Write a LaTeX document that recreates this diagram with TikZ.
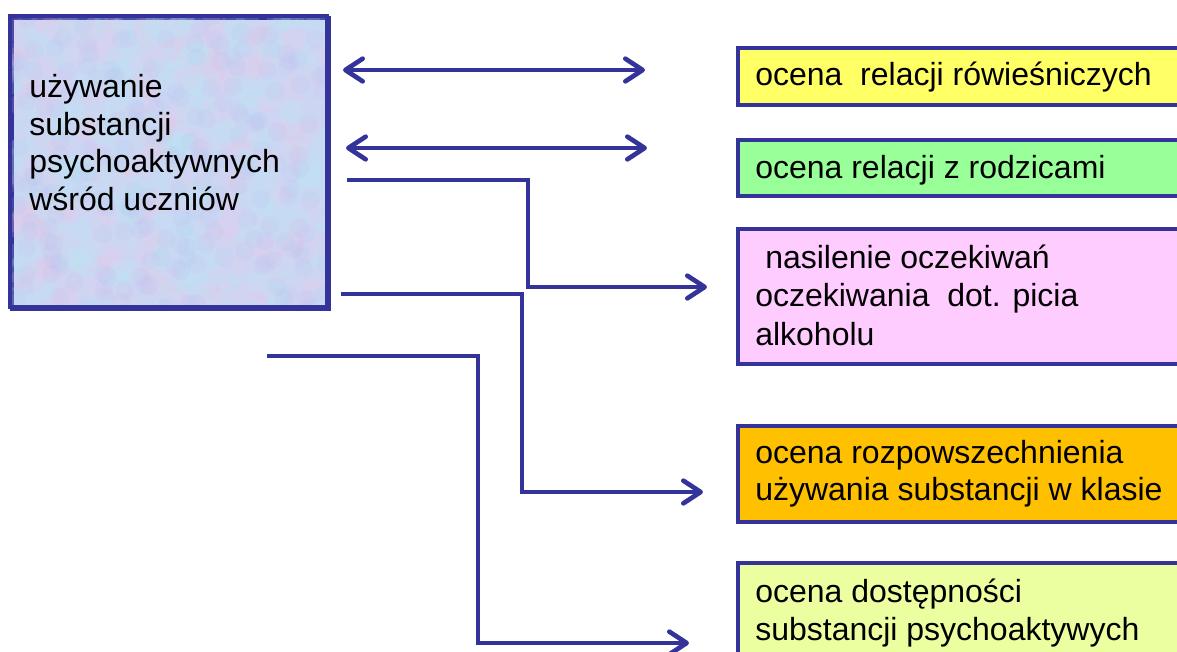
\documentclass[tikz,border=0pt]{standalone}
\usepackage{fontspec}
\setmainfont{Liberation Sans}
\usetikzlibrary{arrows.meta}
\definecolor{navy}{RGB}{51,51,153}
\definecolor{srcfill}{RGB}{204,214,243}
\definecolor{blotpink}{RGB}{232,200,232}
\definecolor{blotcyan}{RGB}{186,232,246}
\definecolor{blotblue}{RGB}{184,194,240}
\definecolor{cyellow}{RGB}{255,255,102}
\definecolor{cgreen}{RGB}{153,255,153}
\definecolor{cpink}{RGB}{255,204,255}
\definecolor{corange}{RGB}{255,192,0}
\definecolor{clime}{RGB}{235,255,160}
\tikzset{
  boxshape/.style={draw=navy, line width=3pt, rectangle, inner sep=0pt, anchor=north west},
  label/.style={anchor=base west, inner sep=0pt, font=\fontsize{24pt}{28pt}\selectfont, text=black},
  conn/.style={draw=navy, line width=3.5pt, line cap=round, line join=miter},
  tip/.style={-{Straight Barb[length=13pt,width=17pt,round]}},
  dtip/.style={{Straight Barb[length=13pt,width=17pt,round]}-{Straight Barb[length=13pt,width=17pt,round]}}
}
\begin{document}
\begin{tikzpicture}[x=0.75pt,y=-0.75pt]
\useasboundingbox (0,0) rectangle (1177,651);
\clip (0,0) rectangle (1177,651);
% source box with mottled fill
\node[boxshape, fill=srcfill, minimum width=237.75pt, minimum height=218.25pt] (src) at (10,16) {};
\begin{scope}
  \clip (12,18) rectangle (325,305);
  \pgfmathsetseed{7}
  \foreach \i in {1,...,260}{
    \pgfmathsetmacro\rx{10+317*rnd}\pgfmathsetmacro\ry{16+291*rnd}
    \fill[blotpink, opacity=0.18] (\rx,\ry) circle (9pt);
  }
  \foreach \i in {1,...,260}{
    \pgfmathsetmacro\rx{10+317*rnd}\pgfmathsetmacro\ry{16+291*rnd}
    \fill[blotcyan, opacity=0.18] (\rx,\ry) circle (9pt);
  }
  \foreach \i in {1,...,200}{
    \pgfmathsetmacro\rx{10+317*rnd}\pgfmathsetmacro\ry{16+291*rnd}
    \fill[blotblue, opacity=0.15] (\rx,\ry) circle (7pt);
  }
\end{scope}
\draw[navy, line width=3pt] (10,16) rectangle (327,307);
\node[label] (s1) at (29,97) {używanie};
\node[label] (s2) at (29,135) {substancji};
\node[label] (s3) at (29,172) {psychoaktywnych};
\node[label] (s4) at (29,210) {wśród uczniów};
% target boxes
\node[boxshape, fill=cyellow, minimum width=340.5pt, minimum height=42.75pt] (b1) at (736,46) {};
\node[boxshape, fill=cgreen, minimum width=340.5pt, minimum height=42pt] (b2) at (736,138) {};
\node[boxshape, fill=cpink, minimum width=340.5pt, minimum height=101.25pt] (b3) at (736,227) {};
\node[boxshape, fill=corange, minimum width=340.5pt, minimum height=72pt] (b4) at (736,424) {};
\node[boxshape, fill=clime, minimum width=340.5pt, minimum height=104.25pt] (b5) at (736,561) {};
\node[label] (t1) at (755,85) {ocena\ \ relacji rówieśniczych};
\node[label] (t2) at (755,178) {ocena relacji z rodzicami};
\node[label] (t3a) at (765,268) {nasilenie oczekiwań};
\node[label] (t3b) at (755,306) {oczekiwania\ \ dot. picia};
\node[label] (t3c) at (755,345) {alkoholu};
\node[label] (t4a) at (755,463) {ocena rozpowszechnienia};
\node[label] (t4b) at (755,500) {używania substancji w klasie};
\node[label] (t5a) at (755,602) {ocena dostępności};
\node[label] (t5b) at (755,640) {substancji psychoaktywych};
% connector end points
\coordinate (a1s) at (343,70);
\coordinate (a1e) at (645,70);
\coordinate (a2s) at (346,148);
\coordinate (a2e) at (647,148);
\coordinate (c3s) at (347,180);
\coordinate (c3e) at (707,287);
\coordinate (c4s) at (341,294);
\coordinate (c4e) at (703,492);
\coordinate (c5s) at (267,356);
\coordinate (c5e) at (689,643);
\draw[conn, dtip] (a1s) -- (a1e);
\draw[conn, dtip] (a2s) -- (a2e);
\draw[conn, tip, line cap=butt] (c3s) -- (528,180) -- (528,287) -- (c3e);
\draw[conn, tip, line cap=butt] (c4s) -- (522,294) -- (522,492) -- (c4e);
\draw[conn, tip, line cap=butt] (c5s) -- (478,356) -- (478,643) -- (c5e);
\end{tikzpicture}
\end{document}
